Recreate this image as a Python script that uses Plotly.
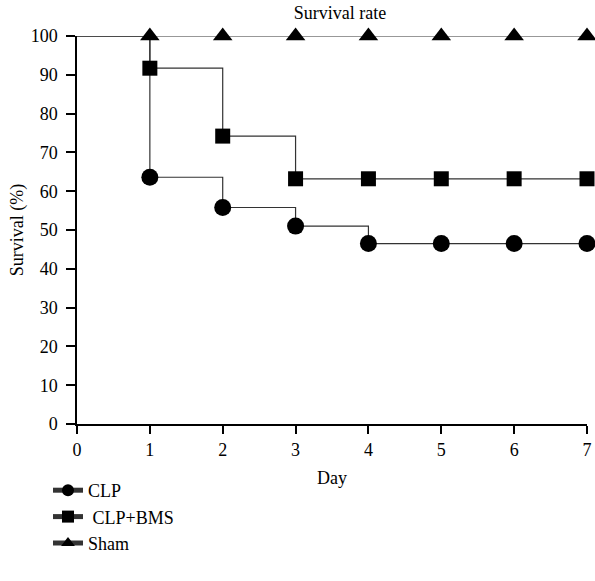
import plotly.graph_objects as go

days = [0, 1, 2, 3, 4, 5, 6, 7]
clp = [100, 63.6, 55.8, 51.0, 46.5, 46.5, 46.5, 46.5]
clp_bms = [100, 91.7, 74.2, 63.2, 63.2, 63.2, 63.2, 63.2]
sham = [100, 100, 100, 100, 100, 100, 100, 100]
y_ticks = [0, 10, 20, 30, 40, 50, 60, 70, 80, 90, 100]
x_ticks = [0, 1, 2, 3, 4, 5, 6, 7]

FONT = "Liberation Serif"
FS = 18
LINE = dict(color="#333333", width=1.2, shape="hv")

def sizes(n):
    return [0] + [n] * (len(days) - 1)

def mk(symbol, n):
    return dict(symbol=symbol, size=sizes(n), color="black", opacity=1,
                line=dict(width=0, color="black"))

fig = go.Figure()
fig.add_trace(go.Scatter(x=days, y=clp, mode="lines+markers", name="CLP", legendgroup="a",
                         line=LINE, marker=mk("circle", 17), cliponaxis=False))
fig.add_trace(go.Scatter(x=days, y=clp_bms, mode="lines+markers", name=" CLP+BMS", legendgroup="b",
                         line=LINE, marker=mk("square", 15), cliponaxis=False))
fig.add_trace(go.Scatter(x=days, y=sham, mode="lines+markers", name="Sham", legendgroup="c",
                         line=LINE, marker=mk("triangle-up", 17), cliponaxis=False))

fig.update_layout(
    width=595, height=581,
    margin=dict(l=77, r=8, t=36, b=157, autoexpand=False),
    paper_bgcolor="white", plot_bgcolor="white",
    font=dict(family=FONT, size=FS, color="black"),
    title=dict(text="Survival rate", x=340 / 595, xanchor="center",
               y=1 - 13 / 581, yanchor="middle", font=dict(family=FONT, size=FS)),
    xaxis=dict(range=[0, 7], tickvals=x_ticks, ticks="outside", ticklen=8,
               showline=True, linecolor="black", linewidth=1.5, tickcolor="black",
               tickwidth=1.5, tickfont=dict(family=FONT, size=FS), ticklabelstandoff=1,
               showgrid=False, zeroline=False,
               title=dict(text="Day", standoff=12, font=dict(family=FONT, size=FS))),
    yaxis=dict(range=[0, 100], tickvals=y_ticks, ticks="outside", ticklen=9,
               showline=True, linecolor="black", linewidth=1.5, tickcolor="black",
               tickwidth=1.5, tickfont=dict(family=FONT, size=FS), ticklabelstandoff=5,
               showgrid=False, zeroline=False,
               title=dict(text="Survival (%)", standoff=2, font=dict(family=FONT, size=FS))),
    legend=dict(x=(48 - 77) / 510, xanchor="left", y=-(472 - 424) / 388, yanchor="top",
                font=dict(family=FONT, size=FS), tracegroupgap=0,
                itemsizing="constant", bgcolor="rgba(0,0,0,0)"),
    showlegend=True,
)

fig.write_html("out.html", config={"displayModeBar": False},
               post_script="document.body.style.margin='0px';")
